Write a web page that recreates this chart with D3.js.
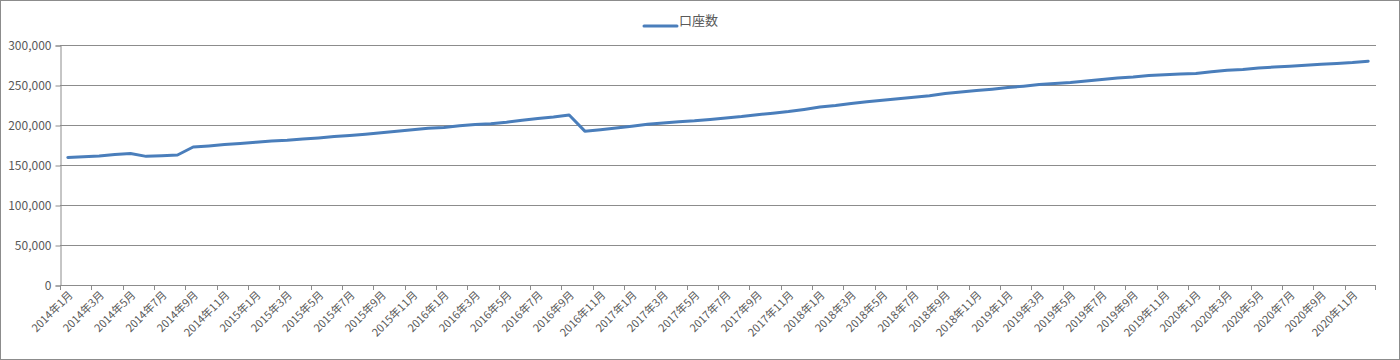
<!DOCTYPE html>
<html>
<head>
<meta charset="utf-8">
<script src="https://cdn.jsdelivr.net/npm/d3@7"></script>
<style>
  body { margin: 0; background: #fff; }
  text { font-family: "Noto Sans CJK JP", "DejaVu Sans", sans-serif; fill: #595959; }
</style>
</head>
<body>
<div id="chart"></div>
<script>
// monthly 2014/1 .. 2020/12
var years = [2014, 2015, 2016, 2017, 2018, 2019, 2020];
var seriesName = "口座数";
var yTicks = [0, 50000, 100000, 150000, 200000, 250000, 300000];
var accounts = [
    159500, 160300, 161200, 163000, 164300, 160800, 161500, 162500, 172500, 173800, 175500, 176800,
    178500, 180000, 181000, 182500, 183800, 185500, 187000, 188500, 190300, 192200, 194000, 196000,
    197000, 199000, 200500, 201500, 203500, 206000, 208000, 210000, 212500, 192300, 194200, 196200,
    198300, 200800, 202500, 204000, 205200, 207000, 208800, 210500, 212800, 214800, 216800, 219500,
    222500, 224500, 227000, 229000, 231000, 232800, 234800, 236500, 239300, 241200, 243000, 244800,
    246800, 248500, 250500, 251800, 253000, 255000, 257000, 258800, 260000, 261800, 262800, 263800,
    264500, 266500, 268300, 269500, 271300, 272500, 273500, 274700, 276000, 277000, 278000, 279800
];

var months = [];
years.forEach(function (y) {
    for (var m = 1; m <= 12; m++) months.push(y + "年" + m + "月");
});

var W = 1400, H = 360;
var margin = {left: 60, right: 24, top: 45, bottom: 75};

var svg = d3.select("#chart").append("svg")
    .attr("width", W)
    .attr("height", H);

// chart border
svg.append("rect")
    .attr("x", 0.5).attr("y", 0.5)
    .attr("width", W - 1).attr("height", H - 1)
    .attr("fill", "#fff")
    .attr("stroke", "#8c8c8c");

var x = d3.scaleBand()
    .domain(months)
    .range([margin.left, W - margin.right]);

var y = d3.scaleLinear()
    .domain([0, 300000])
    .range([H - margin.bottom, margin.top]);

// gridlines
svg.append("g")
    .selectAll("line")
    .data(yTicks.slice(1))
    .enter().append("line")
    .attr("x1", margin.left)
    .attr("x2", W - margin.right)
    .attr("y1", function (d) { return y(d) + 0.5; })
    .attr("y2", function (d) { return y(d) + 0.5; })
    .attr("stroke", "#8c8c8c")
    .attr("stroke-width", 1);

// y axis
var yAxis = svg.append("g")
    .attr("transform", "translate(" + (margin.left + 0.5) + ",0.5)")
    .call(d3.axisLeft(y).tickValues(yTicks).tickSize(5).tickPadding(4)
        .tickFormat(d3.format(",")));
yAxis.select(".domain").attr("stroke", "#8c8c8c");
yAxis.selectAll(".tick line").attr("stroke", "#8c8c8c");
yAxis.selectAll("text").style("font-size", "12px").attr("fill", "#595959");

// x axis: tick marks every 2 months on band boundaries
var xg = svg.append("g");
xg.append("line")
    .attr("x1", margin.left).attr("x2", W - margin.right)
    .attr("y1", y(0) + 0.5).attr("y2", y(0) + 0.5)
    .attr("stroke", "#8c8c8c");

var boundaries = months.filter(function (d, i) { return i % 2 === 0; });
xg.selectAll("line.tk")
    .data(boundaries.concat(["end"]))
    .enter().append("line")
    .attr("class", "tk")
    .attr("x1", function (d) { return d === "end" ? W - margin.right - 0.5 : Math.round(x(d)) + 0.5; })
    .attr("x2", function (d) { return d === "end" ? W - margin.right - 0.5 : Math.round(x(d)) + 0.5; })
    .attr("y1", y(0))
    .attr("y2", y(0) + 5)
    .attr("stroke", "#8c8c8c");

xg.selectAll("text")
    .data(boundaries)
    .enter().append("text")
    .attr("transform", function (d) {
        return "translate(" + (x(d) + x.bandwidth() / 2 + 3) + "," + (y(0) + 8) + ") rotate(-45)";
    })
    .attr("text-anchor", "end")
    .attr("dy", "0.35em")
    .style("font-size", "11px")
    .text(function (d) { return d; });

// line
var line = d3.line()
    .x(function (d, i) { return x(months[i]) + x.bandwidth() / 2; })
    .y(function (d) { return y(d); });

svg.append("path")
    .datum(accounts)
    .attr("d", line)
    .attr("fill", "none")
    .attr("stroke", "#4a7ebb")
    .attr("stroke-width", 3)
    .attr("stroke-linejoin", "round")
    .attr("stroke-linecap", "round");

// legend
var lg = svg.append("g").attr("transform", "translate(644,26)");
lg.append("line")
    .attr("x1", 0).attr("x2", 33)
    .attr("y1", 0).attr("y2", 0)
    .attr("stroke", "#4a7ebb")
    .attr("stroke-width", 3)
    .attr("stroke-linecap", "round");
lg.append("text")
    .attr("x", 35)
    .attr("y", 0)
    .attr("dy", "-0.1em")
    .style("font-size", "13px")
    .text(seriesName);
</script>
</body>
</html>
